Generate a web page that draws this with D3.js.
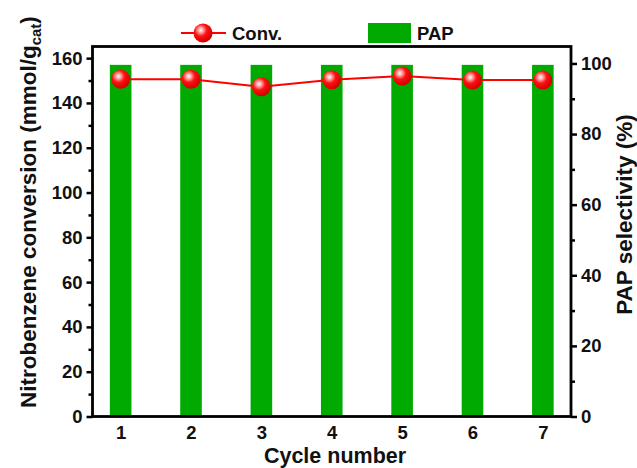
<!DOCTYPE html>
<html><head><meta charset="utf-8">
<script src="https://cdn.jsdelivr.net/npm/d3@7"></script>
<style>
body{margin:0;background:#fff;}
text{font-family:Arial,"Liberation Sans",sans-serif;font-weight:bold;fill:#111;}
</style></head>
<body><svg id="c" width="637" height="468"></svg>
<script>
const cycles = [1,2,3,4,5,6,7];
const conversion = [150.6,150.6,147.2,150.3,152.0,150.2,150.2];
const selectivity = [99.6,99.6,99.6,99.6,99.6,99.6,99.6];
const leftTicks = [0,20,40,60,80,100,120,140,160];
const rightTicks = [0,20,40,60,80,100];

const svg = d3.select("#c");
const L=92.5,R=571,T=46.5,B=416.5;
const x = d3.scaleLinear().domain([0.6,7.4]).range([L,R]);
const yL = d3.scaleLinear().domain([0,165.2]).range([B,T]);
const yR = d3.scaleLinear().domain([0,104.8]).range([B,T]);

const defs = svg.append("defs");
const g = defs.append("radialGradient").attr("id","ball").attr("cx","0.38").attr("cy","0.35").attr("r","0.65");
g.append("stop").attr("offset","0").attr("stop-color","#ffffff");
g.append("stop").attr("offset","0.18").attr("stop-color","#ffb0b0");
g.append("stop").attr("offset","0.5").attr("stop-color","#ff1010");
g.append("stop").attr("offset","1").attr("stop-color","#d00000");

// bars
svg.append("g").selectAll("rect").data(cycles).join("rect")
  .attr("x",(d)=>x(d)-10.8).attr("width",21.6)
  .attr("y",(d,i)=>yR(selectivity[i])).attr("height",(d,i)=>B-yR(selectivity[i]))
  .attr("fill","#00aa00");

// line
svg.append("path").datum(cycles)
  .attr("d",d3.line().x(d=>x(d)).y((d,i)=>yL(conversion[i])))
  .attr("fill","none").attr("stroke","#ff0000").attr("stroke-width",2);
svg.append("g").selectAll("circle").data(cycles).join("circle")
  .attr("cx",d=>x(d)).attr("cy",(d,i)=>yL(conversion[i])).attr("r",9.5)
  .attr("fill","url(#ball)");

// frame
svg.append("rect").attr("x",L).attr("y",T).attr("width",R-L).attr("height",B-T)
  .attr("fill","none").attr("stroke","#000").attr("stroke-width",2.8);

// axes
const minorL = d3.range(10,170,20);
const minorR = d3.range(10,110,20);
const axL = svg.append("g").attr("transform",`translate(${L},0)`)
  .call(d3.axisLeft(yL).tickValues(leftTicks).tickSize(6).tickPadding(4));
const axLm = svg.append("g").attr("transform",`translate(${L},0)`)
  .call(d3.axisLeft(yL).tickValues(minorL).tickSize(4).tickFormat(""));
const axR = svg.append("g").attr("transform",`translate(${R},0)`)
  .call(d3.axisRight(yR).tickValues(rightTicks).tickSize(6).tickPadding(4));
const axRm = svg.append("g").attr("transform",`translate(${R},0)`)
  .call(d3.axisRight(yR).tickValues(minorR).tickSize(4).tickFormat(""));
const axB = svg.append("g").attr("transform",`translate(0,${B})`)
  .call(d3.axisBottom(x).tickValues(cycles).tickSize(0).tickPadding(9).tickFormat(d3.format("d")));
[axL,axLm,axR,axRm,axB].forEach(a=>{
  a.select(".domain").remove();
  a.selectAll(".tick line").attr("stroke","#000").attr("stroke-width",2.5);
  a.selectAll("text").style("font-size","18.5px").style("font-weight","bold").attr("fill","#111").style("font-family","Arial");
});

// titles
svg.append("text").attr("x",335).attr("y",462.5).attr("text-anchor","middle")
  .style("font-size","21.5px").text("Cycle number");
const lt = svg.append("text").attr("transform","translate(35.5,212) rotate(-90)")
  .attr("text-anchor","middle").style("font-size","22.5px");
lt.append("tspan").text("Nitrobenzene conversion (mmol/g");
lt.append("tspan").attr("dy",5).style("font-size","15px").text("cat");
lt.append("tspan").attr("dy",-5).text(")");
svg.append("text").attr("transform","translate(631.5,214.5) rotate(-90)")
  .attr("text-anchor","middle").style("font-size","22.5px").text("PAP selectivity (%)");

// legend
const lg = svg.append("g");
lg.append("line").attr("x1",181).attr("x2",226).attr("y1",33).attr("y2",33)
  .attr("stroke","#ff0000").attr("stroke-width",2);
lg.append("circle").attr("cx",203).attr("cy",33).attr("r",9.5).attr("fill","url(#ball)");
lg.append("text").attr("x",232).attr("y",40).style("font-size","18.5px").text("Conv.");
lg.append("rect").attr("x",368).attr("y",23).attr("width",43).attr("height",20).attr("fill","#00aa00");
lg.append("text").attr("x",417).attr("y",40).style("font-size","18.5px").text("PAP");
</script></body></html>
